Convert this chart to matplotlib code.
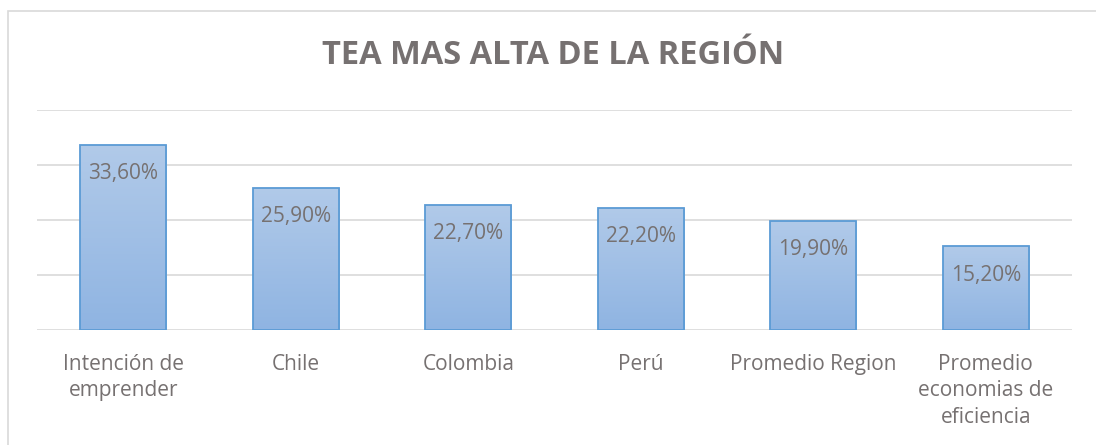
import numpy as np
import matplotlib
matplotlib.use("Agg")
import matplotlib.pyplot as plt
from matplotlib.colors import LinearSegmentedColormap
from matplotlib.patches import Rectangle

# data
categorias = ["Intención de\nemprender", "Chile", "Colombia", "Perú",
              "Promedio Region", "Promedio\neconomias de\neficiencia"]
valores = [33.6, 25.9, 22.7, 22.2, 19.9, 15.2]
etiquetas = ["33,60%", "25,90%", "22,70%", "22,20%", "19,90%", "15,20%"]
titulo = "TEA MAS ALTA DE LA REGIÓN"

gris = "#767171"
plt.rcParams['font.family'] = ['Open Sans', 'DejaVu Sans']

fig = plt.figure(figsize=(10.96, 4.45), dpi=100)
ax = fig.add_axes([37/1096, 1-330/445, (1072-37)/1096, 220/445])

# outer chart frame (light gray)
fig.patches.append(Rectangle((8/1096, -0.1), 1.2, 1-11/445+0.1, transform=fig.transFigure,
                             fill=False, edgecolor="#d9d9d9", lw=1.2, zorder=0))

x = np.arange(len(categorias))
bars = ax.bar(x, valores, width=0.5, color="none", edgecolor="#5b9bd5", lw=1.3, zorder=3)

grad_cmap = LinearSegmentedColormap.from_list("g", ["#8fb4e2", "#b1cae9"])
grad = np.linspace(0, 1, 256).reshape(-1, 1)
for b in bars:
    x0 = b.get_x()
    im = ax.imshow(grad, extent=[x0, x0 + b.get_width(), 0, b.get_height()],
                   origin="lower", cmap=grad_cmap, aspect="auto", zorder=2)
    im.set_clip_path(b)

for xi, v, t in zip(x, valores, etiquetas):
    ax.text(xi, v - 3.3, t, ha="center", va="top", fontsize=15, color=gris, zorder=4)

ax.set_xlim(-0.5, len(categorias) - 0.5)
ax.set_ylim(0, 40)
ax.set_yticks([0, 10, 20, 30, 40])
ax.yaxis.grid(True, color="#d9d9d9", lw=1.2, zorder=0)
ax.set_axisbelow(True)
ax.tick_params(axis="y", left=False, labelleft=False)
ax.tick_params(axis="x", length=0, pad=17)
ax.set_xticks(x)
ax.set_xticklabels(categorias, fontsize=15, color=gris, linespacing=1.36)
for s in ax.spines.values():
    s.set_visible(False)
ax.patch.set_alpha(0)

fig.text(553/1096, 1-56/445, titulo, ha="center", va="center", fontsize=23.5,
         fontweight="bold", color=gris)

fig.savefig("out.png", dpi=100)
